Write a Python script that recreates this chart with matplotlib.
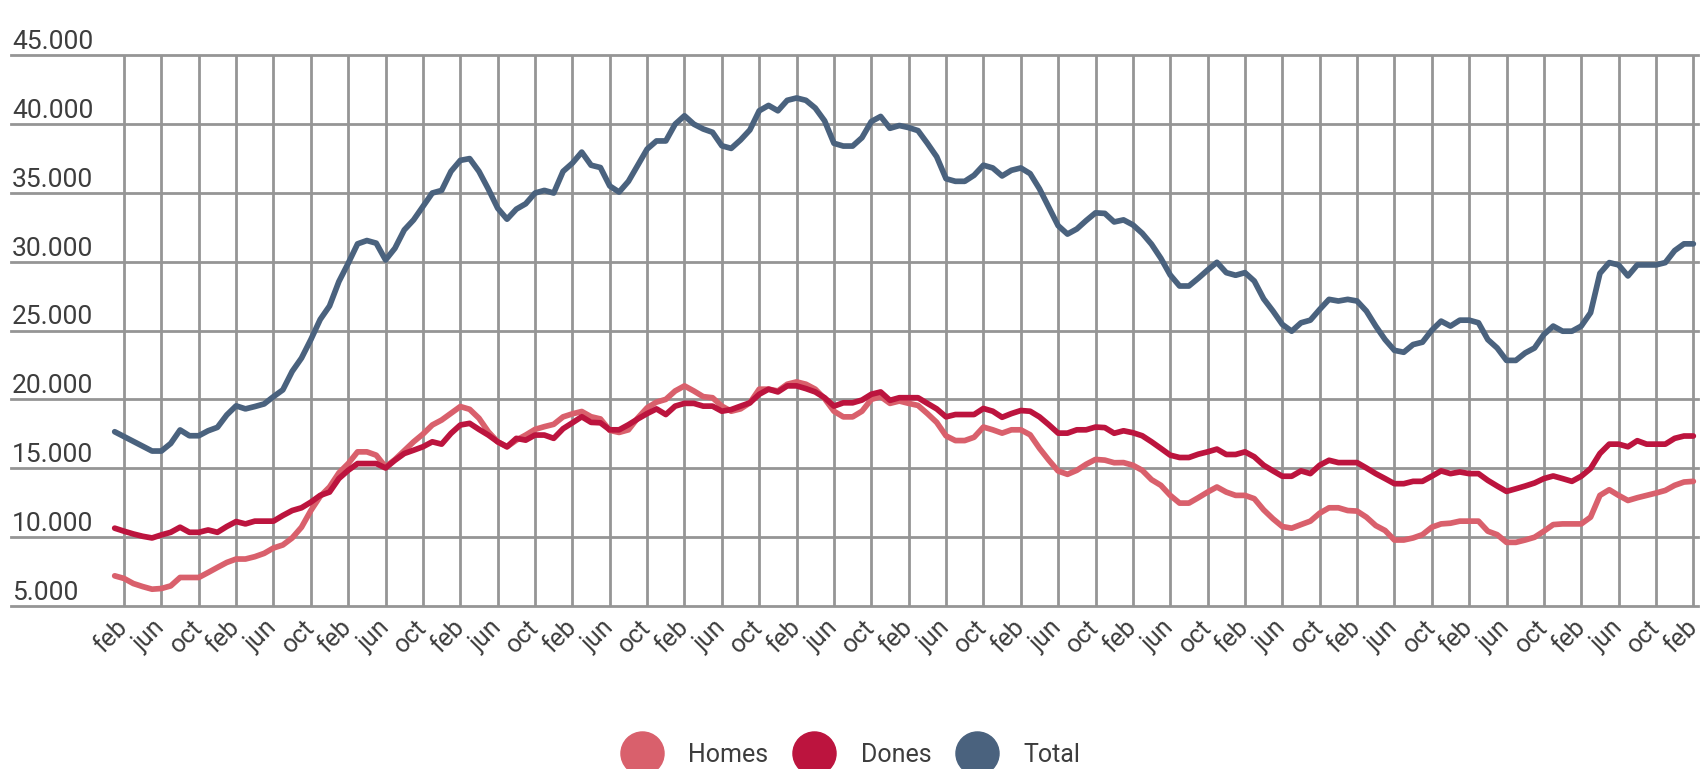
import numpy as np
import matplotlib
matplotlib.use("Agg")
import matplotlib.pyplot as plt
from matplotlib.lines import Line2D
from matplotlib.transforms import blended_transform_factory

plt.rcParams["font.family"] = ["Roboto", "DejaVu Sans"]

# --- Data (monthly, jan of first year -> feb of last year) ---
homes = [
    7190, 7000, 6630, 6410, 6220, 6270, 6460, 7070, 7070, 7070,
    7430, 7800, 8160, 8410, 8410, 8580, 8820, 9210, 9430, 9940,
    10720, 11930, 12960, 13640, 14660, 15340, 16190, 16190, 15950, 15100,
    15630, 16270, 16920, 17480, 18140, 18500, 18990, 19480, 19280, 18630,
    17650, 16920, 16560, 17040, 17410, 17820, 18020, 18190, 18730, 18950,
    19120, 18740, 18580, 17750, 17600, 17790, 18650, 19390, 19800, 20000,
    20610, 20980, 20610, 20200, 20120, 19510, 19140, 19310, 19750, 20740,
    20740, 20610, 21100, 21270, 21100, 20740, 20050, 19140, 18730, 18730,
    19140, 20000, 20200, 19710, 19880, 19710, 19560, 18970, 18330, 17350,
    17010, 17010, 17250, 17990, 17790, 17550, 17790, 17790, 17430, 16450,
    15590, 14800, 14560, 14850, 15290, 15640, 15590, 15400, 15410, 15220,
    14850, 14170, 13760, 13030, 12470, 12470, 12860, 13270, 13640, 13270,
    13030, 13030, 12790, 11980, 11330, 10770, 10650, 10910, 11160, 11740,
    12130, 12130, 11930, 11890, 11450, 10840, 10480, 9790, 9790, 9940,
    10180, 10720, 10960, 11010, 11160, 11160, 11160, 10430, 10180, 9620,
    9620, 9790, 9990, 10430, 10910, 10960, 10960, 10960, 11450, 13030,
    13440, 13030, 12660, 12860, 13030, 13200, 13390, 13760, 14000, 14050,
]

dones = [
    10650, 10430, 10230, 10060, 9940, 10160, 10350, 10720, 10350, 10350,
    10520, 10350, 10770, 11130, 10960, 11160, 11160, 11160, 11570, 11930,
    12130, 12540, 13030, 13270, 14250, 14850, 15340, 15340, 15340, 15020,
    15580, 16070, 16310, 16560, 16920, 16750, 17530, 18140, 18260, 17820,
    17410, 16920, 16560, 17170, 17040, 17410, 17410, 17170, 17870, 18300,
    18740, 18330, 18300, 17790, 17790, 18160, 18580, 18970, 19310, 18900,
    19510, 19710, 19710, 19510, 19510, 19140, 19260, 19510, 19750, 20370,
    20740, 20540, 20980, 20980, 20780, 20540, 20120, 19510, 19750, 19750,
    19950, 20370, 20540, 19930, 20120, 20120, 20120, 19710, 19310, 18730,
    18900, 18900, 18900, 19340, 19140, 18700, 18970, 19190, 19140, 18730,
    18160, 17550, 17550, 17790, 17790, 17990, 17950, 17540, 17720, 17580,
    17360, 16920, 16440, 15950, 15780, 15780, 16020, 16190, 16390, 16000,
    16000, 16190, 15830, 15220, 14810, 14420, 14420, 14810, 14610, 15220,
    15580, 15410, 15410, 15410, 15020, 14610, 14250, 13880, 13880, 14050,
    14050, 14420, 14810, 14610, 14730, 14610, 14610, 14120, 13710, 13320,
    13510, 13710, 13930, 14250, 14440, 14250, 14050, 14420, 14980, 16070,
    16750, 16750, 16560, 17000, 16750, 16750, 16750, 17170, 17340, 17340,
]

total = [
    17650, 17300, 16950, 16600, 16250, 16250, 16800, 17780, 17360, 17360,
    17720, 17970, 18870, 19530, 19310, 19480, 19670, 20200, 20690, 22030,
    23000, 24340, 25800, 26780, 28550, 29880, 31290, 31530, 31340, 30120,
    30970, 32300, 33030, 34000, 34980, 35170, 36550, 37350, 37480, 36550,
    35270, 33880, 33080, 33810, 34200, 34980, 35170, 34980, 36550, 37150,
    37950, 37000, 36830, 35490, 35050, 35830, 37000, 38170, 38760, 38760,
    39980, 40590, 39980, 39630, 39390, 38410, 38220, 38830, 39560, 40950,
    41340, 40950, 41710, 41880, 41710, 41150, 40220, 38590, 38390, 38390,
    39000, 40170, 40540, 39680, 39880, 39730, 39510, 38590, 37610, 36020,
    35830, 35830, 36270, 37000, 36800, 36220, 36630, 36800, 36390, 35290,
    33950, 32610, 32000, 32370, 32980, 33540, 33500, 32880, 33030, 32670,
    32060, 31260, 30240, 29030, 28230, 28230, 28790, 29390, 29950, 29200,
    29010, 29200, 28590, 27300, 26410, 25440, 24950, 25560, 25750, 26530,
    27260, 27140, 27260, 27140, 26410, 25320, 24340, 23560, 23420, 23980,
    24150, 25020, 25680, 25320, 25750, 25750, 25560, 24340, 23730, 22830,
    22830, 23370, 23730, 24710, 25320, 24950, 24950, 25320, 26290, 29150,
    29930, 29760, 28960, 29760, 29760, 29760, 29930, 30800, 31290, 31290,
]

# x axis shows every 4th month, starting with the first february
month_labels = ["feb", "jun", "oct"] * 14 + ["feb"]
y_ticks = [5000, 10000, 15000, 20000, 25000, 30000, 35000, 40000, 45000]

SERIES = [
    ("Homes", homes, "#d9606c"),
    ("Dones", dones, "#bc143e"),
    ("Total", total, "#4a627e"),
]
TEXT_COLOR = "#3d3d3d"
GRID_COLOR = "#959595"


fig = plt.figure(figsize=(17.01, 7.69), dpi=100)
ax = fig.add_axes([11 / 1701, 1 - 606 / 769, (1698 - 11) / 1701, (606 - 55) / 769])

months = np.arange(len(total))
for name, values, color in SERIES:
    ax.plot(months, values, color=color, linewidth=4.1, solid_joinstyle="round",
            solid_capstyle="round", label=name, zorder=3)

ax.set_xlim(-11.1, 169.5)
ax.set_ylim(5000, 45000)

ax.set_xticks(months[1::4])
ax.set_xticklabels(month_labels, rotation=45, ha="right", va="center",
                   rotation_mode="anchor", fontsize=18, color=TEXT_COLOR)
ax.tick_params(axis="x", length=0, pad=13)

ax.set_yticks(y_ticks)
ax.tick_params(axis="y", length=0, labelleft=False)
trans = blended_transform_factory(ax.transAxes, ax.transData)
for v in y_ticks:
    ax.annotate(f"{v:,}".replace(",", "."), xy=(0, v), xycoords=trans,
                xytext=(1, 6), textcoords="offset pixels",
                ha="left", va="baseline", fontsize=19, color=TEXT_COLOR)

ax.grid(True, color=GRID_COLOR, linewidth=2.0, zorder=1)
for gl in ax.get_ygridlines():
    gl.set_clip_on(False)
for spine in ax.spines.values():
    spine.set_visible(False)

handles = [Line2D([], [], linestyle="none", marker="o", markersize=31,
                  markerfacecolor=c, markeredgecolor=c) for _, _, c in SERIES]
fig.legend(handles, [s[0] for s in SERIES], loc="center", ncol=3,
           bbox_to_anchor=(0.5, 1 - 755 / 769), frameon=False, fontsize=18,
           labelcolor=TEXT_COLOR, handlelength=1.7, handletextpad=1.0,
           columnspacing=1.0, borderaxespad=0, borderpad=0)

fig.savefig("out.png", dpi=100)
